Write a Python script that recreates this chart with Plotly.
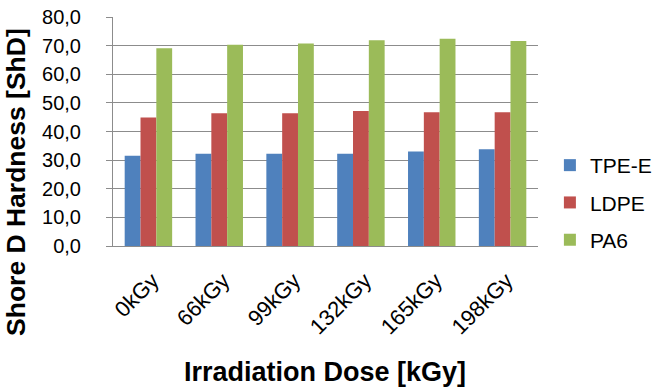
import plotly.graph_objects as go

doses = ["0kGy", "66kGy", "99kGy", "132kGy", "165kGy", "198kGy"]
tpe_e = [31.5, 32.2, 32.2, 32.2, 33.0, 33.8]
ldpe = [44.9, 46.4, 46.4, 47.2, 46.7, 46.7]
pa6 = [69.1, 70.3, 70.7, 71.9, 72.4, 71.6]
y_ticks = [0, 10, 20, 30, 40, 50, 60, 70, 80]

series = [("TPE-E", tpe_e, "#4F81BD"), ("LDPE", ldpe, "#C0504D"), ("PA6", pa6, "#9BBB59")]

fig = go.Figure()
for name, vals, color in series:
    fig.add_trace(go.Bar(x=doses, y=vals, name=name, marker_color=color,
                         marker_line_width=0, legendgroup=name))

font = "Arial, Liberation Sans, sans-serif"
fig.update_layout(
    width=657, height=389,
    margin=dict(l=113, r=119, t=17, b=143, autoexpand=False),
    paper_bgcolor="white", plot_bgcolor="white",
    separators=",.",
    barmode="group", bargap=0.33, bargroupgap=0,
    font=dict(family=font, color="#000000"),
    legend=dict(x=1.028, y=0.19, xanchor="left", yanchor="middle",
                font=dict(size=21, family=font), tracegroupgap=7,
                itemwidth=30),
    showlegend=True,
)
fig.update_xaxes(
    tickangle=-45, tickfont=dict(size=22, family=font),
    ticklabelstandoff=12, ticklabelshift=4,
    showline=True, linecolor="#8C8C8C", linewidth=1,
    ticks="", showgrid=False,
)
fig.update_yaxes(
    range=[0, 80], tickvals=y_ticks, tickformat=".1f",
    tickfont=dict(size=20, family=font),
    ticklabelstandoff=21,
    showgrid=True, gridcolor="#8C8C8C", gridwidth=1,
    showline=True, linecolor="#8C8C8C", linewidth=1,
    ticks="outside", ticklen=6, tickcolor="#8C8C8C",
    zeroline=False,
)
fig.add_annotation(text="<b>Shore D Hardness [ShD]</b>", textangle=-90,
                   xref="paper", yref="paper", x=-0.228, y=0.28,
                   xanchor="center", yanchor="middle", showarrow=False,
                   font=dict(size=26.5, family=font))
fig.add_annotation(text="<b>Irradiation Dose [kGy]</b>",
                   xref="paper", yref="paper", x=0.499, y=-0.55,
                   xanchor="center", yanchor="middle", showarrow=False,
                   font=dict(size=27, family=font))

fig.write_html("out.html")
